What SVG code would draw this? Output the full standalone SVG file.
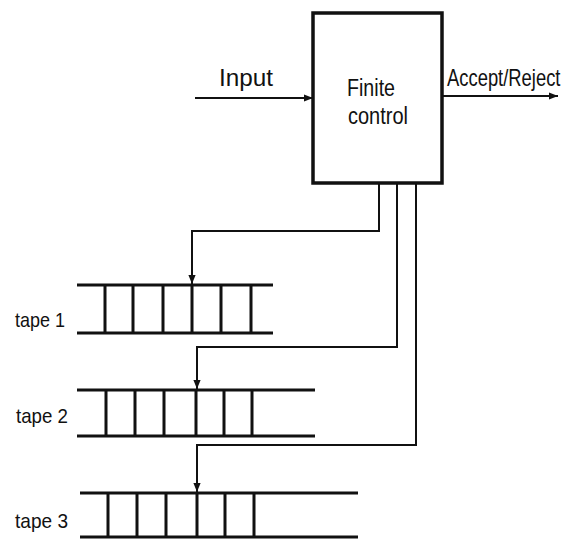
<svg xmlns="http://www.w3.org/2000/svg" width="569" height="543" viewBox="0 0 569 543">
<style>
text{font-family:"Liberation Sans",Arial,sans-serif;fill:#111}
.lbl{font-size:23px}
.tl{font-size:21px}
.ln{stroke:#111;fill:none;stroke-width:2}
.tp{stroke:#111;fill:none;stroke-width:3}
.box{stroke:#111;fill:#fff;stroke-width:3.5}
</style>
<defs>
<marker id="ah" viewBox="0 0 10 10" refX="10" refY="5" markerWidth="9" markerHeight="9" markerUnits="userSpaceOnUse" orient="auto">
<path d="M0,1 L10,5 L0,9 z" fill="#111"/>
</marker>
</defs>
<rect width="569" height="543" fill="#fff"/>
<g id="connectors">
<line class="ln" x1="195" y1="98" x2="313" y2="98" marker-end="url(#ah)"/>
<line class="ln" x1="442" y1="96" x2="558" y2="96" marker-end="url(#ah)"/>
<polyline class="ln" points="379,184 379,231 192,231 192,284" marker-end="url(#ah)"/>
<polyline class="ln" points="397,184 397,347 197,347 197,389" marker-end="url(#ah)"/>
<polyline class="ln" points="416,184 416,445 197,445 197,492" marker-end="url(#ah)"/>
</g>
<g id="finite-control">
<rect class="box" x="313" y="13" width="129" height="170"/>
<text class="lbl" x="347" y="96" textLength="48" lengthAdjust="spacingAndGlyphs">Finite</text>
<text class="lbl" x="348" y="124" textLength="60" lengthAdjust="spacingAndGlyphs">control</text>
</g>
<g id="input-label">
<text class="lbl" x="219" y="86" textLength="54" lengthAdjust="spacingAndGlyphs">Input</text>
</g>
<g id="output-label">
<text class="lbl" transform="translate(447,86) scale(0.8,1)" x="0" y="0">Accept/Reject</text>
</g>
<g id="tape1">
<line class="tp" x1="77" y1="285" x2="273" y2="285"/>
<line class="tp" x1="77" y1="333" x2="273" y2="333"/>
<path class="tp" d="M105,285V333M133,285V333M163,285V333M192,285V333M221,285V333M251,285V333"/>
<text class="tl" x="15" y="327" textLength="50" lengthAdjust="spacingAndGlyphs">tape 1</text>
</g>
<g id="tape2">
<line class="tp" x1="77" y1="390" x2="315" y2="390"/>
<line class="tp" x1="77" y1="436" x2="315" y2="436"/>
<path class="tp" d="M106,390V436M135,390V436M164,390V436M196,390V436M224,390V436M252,390V436"/>
<text class="tl" x="16" y="423" textLength="52" lengthAdjust="spacingAndGlyphs">tape 2</text>
</g>
<g id="tape3">
<line class="tp" x1="80" y1="493" x2="358" y2="493"/>
<line class="tp" x1="80" y1="537" x2="358" y2="537"/>
<path class="tp" d="M108,493V537M137,493V537M166,493V537M197,493V537M225,493V537M254,493V537"/>
<text class="tl" x="15" y="528" textLength="53" lengthAdjust="spacingAndGlyphs">tape 3</text>
</g>
</svg>
